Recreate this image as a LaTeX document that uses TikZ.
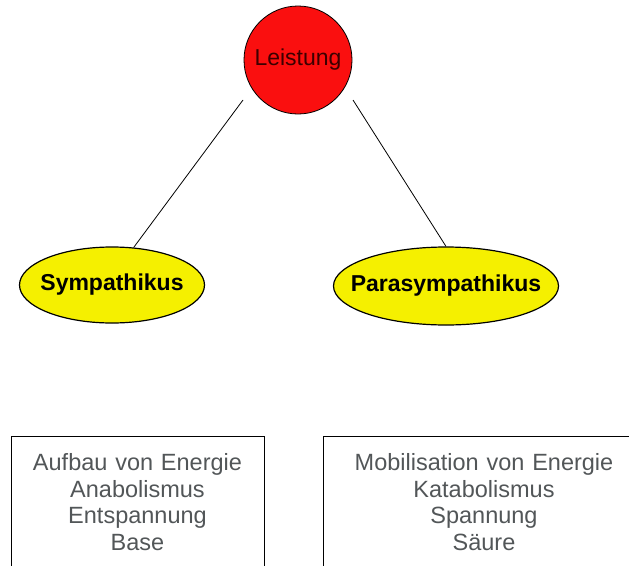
\documentclass[tikz,border=0pt]{standalone}
\usepackage{fontspec}
\setmainfont{Liberation Sans}
\usetikzlibrary{shapes.geometric}
\definecolor{leired}{RGB}{250,15,15}
\definecolor{leitext}{RGB}{60,0,0}
\definecolor{nervyellow}{RGB}{245,240,0}
\definecolor{boxgray}{RGB}{82,86,88}
\tikzset{
  nerv/.style={ellipse,draw,line width=1.2pt,fill=nervyellow,inner ysep=4pt,font=\fontsize{23}{27}\selectfont\bfseries},
  effekt/.style={rectangle,draw,line width=1pt,anchor=north,align=center,inner xsep=5pt,inner ysep=0pt,text height=34pt,text depth=150pt,text=boxgray,font=\fontsize{23.5}{26.5}\selectfont}
}
\begin{document}
\begin{tikzpicture}[x=1pt,y=-1pt]
    \useasboundingbox (0,0) rectangle (629,565);
    \clip (0,0) rectangle (629,565);
    % Top node
    \node at (298,60) [circle,draw,line width=0.8pt,fill=leired,minimum size=108pt,text=leitext,font=\fontsize{23}{27}\selectfont] (lei) {Leistung};

    % Nervous system nodes
    \node at (112,285) [nerv,inner xsep=-8pt,minimum width=185pt,minimum height=76pt] (sym) {Sympathikus};
    \node at (446,286) [nerv,inner xsep=-18pt,minimum width=225pt,minimum height=78pt] (para) {Parasympathikus};

    % Effect boxes
    \node at (137.5,436) [effekt,text width=243pt] (aufbau) {Aufbau von Energie\\Anabolismus\\Entspannung\\Base};
    \node at (484,436) [effekt,text width=312pt] (mobil) {Mobilisation von Energie\\Katabolismus\\Spannung\\Säure};

    % Connecting lines
    \coordinate (lsym) at (243,100);
    \coordinate (lpara) at (353,100);
    \draw[line width=0.8pt] (lsym) to (sym.60);
    \draw[line width=0.8pt] (lpara) to (para.north);
\end{tikzpicture}
\end{document}
